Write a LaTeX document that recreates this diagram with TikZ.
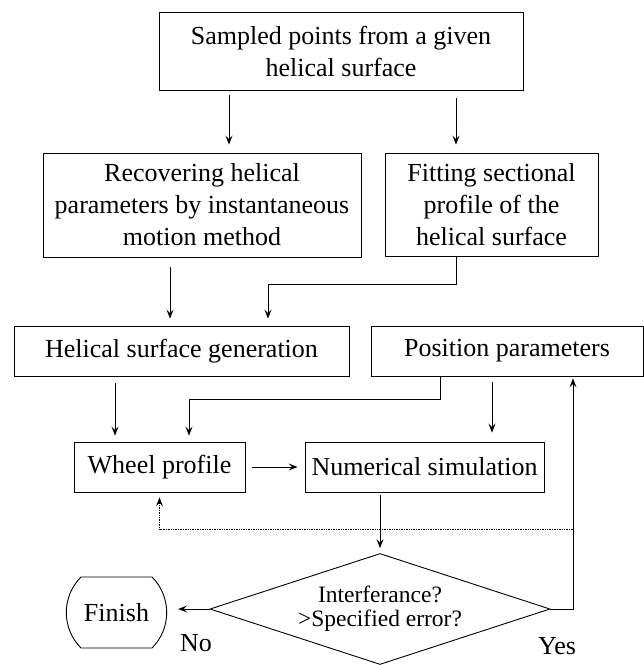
\documentclass[tikz,border=0pt]{standalone}
\usepackage{fontspec}
\setmainfont{Liberation Serif}
\usetikzlibrary{arrows.meta,shapes.geometric,shapes.misc,positioning}

\tikzset{
  block/.style={draw,rectangle,inner sep=0pt,align=center,font=\fontsize{26}{32}\selectfont},
  decision/.style={draw,diamond,aspect=3,inner sep=0pt,align=center,font=\fontsize{23.5}{24}\selectfont},
  stopbox/.style={draw,rounded rectangle,rounded rectangle arc length=90,inner sep=0pt,font=\fontsize{26}{32}\selectfont},
  lbl/.style={inner sep=0pt,font=\fontsize{26}{32}\selectfont}
}

\begin{document}
\begin{tikzpicture}[x=1pt,y=-1pt,->,>={Stealth[length=9pt,width=7pt,inset=3.5pt]},line width=0.9pt]
  \useasboundingbox (0,0) rectangle (644,665);

  \node[block,minimum width=364pt,minimum height=78pt] (S) at (341,51) {Sampled points from a given\\helical surface};
  \node[block,minimum width=318pt,minimum height=104pt] (R) at (202,205) {Recovering helical\\parameters by instantaneous\\motion method};
  \node[block,minimum width=213pt,minimum height=103pt] (F) at (491.5,204.5) {Fitting sectional\\profile of the\\helical surface};
  \node[block,minimum width=335pt,minimum height=50pt] (H) at (181.5,351) {Helical surface generation};
  \node[block,minimum width=272pt,minimum height=50pt] (P) at (507,351) {Position parameters};
  \node[block,minimum width=171pt,minimum height=50pt] (W) at (159.5,467) {Wheel profile};
  \node[block,minimum width=239pt,minimum height=50pt] (N) at (424.5,467) {Numerical simulation};
  \node[decision,minimum width=340pt,minimum height=111pt] (D) at (380,609) {Interferance?\\>Specified error?};
  \node[stopbox,minimum width=97pt,minimum height=71pt] (E) at (116.5,612.5) {Finish};
  \node[lbl] (no) at (196,643) {No};
  \node[lbl] (yes) at (557,646) {Yes};
  \coordinate (back) at (573,529);

  \draw[shorten <=5pt,shorten >=8pt] ([xshift=-112pt]S.south) -- ([xshift=27pt]R.north);
  \draw[shorten <=8pt,shorten >=8pt] ([xshift=115pt]S.south) -- ([xshift=-35.5pt]F.north);
  \draw[shorten <=10pt,shorten >=7pt] ([xshift=-32pt]R.south) -- ([xshift=-11.5pt]H.north);
  \draw[shorten >=7pt] ([xshift=-35.5pt]F.south) -- ++(0,28) -| ([xshift=86.5pt]H.north);
  \draw[shorten <=7pt,shorten >=6pt] ([xshift=-66.5pt]H.south) -- ([xshift=-44.5pt]W.north);
  \draw[shorten >=6pt] ([xshift=-67pt]P.south) -- ++(0,23) -| ([xshift=29.5pt]W.north);
  \draw[shorten <=6pt,shorten >=9pt] ([xshift=-15pt]P.south) -- ([xshift=67.5pt]N.north);
  \draw[shorten <=7pt,shorten >=7pt] (W.east) -- (N.west);
  \draw[shorten <=3pt,shorten >=5pt] ([xshift=-44.5pt]N.south) -- (D.north);
  \draw[shorten >=11pt] (D.west) -- (D.west -| E.east);
  \draw[shorten >=2pt] (D.east) -| ([xshift=66pt]P.south);
  \draw[densely dotted,line width=0.7pt,shorten >=5pt] (back) -| (W.south);
\end{tikzpicture}
\end{document}
